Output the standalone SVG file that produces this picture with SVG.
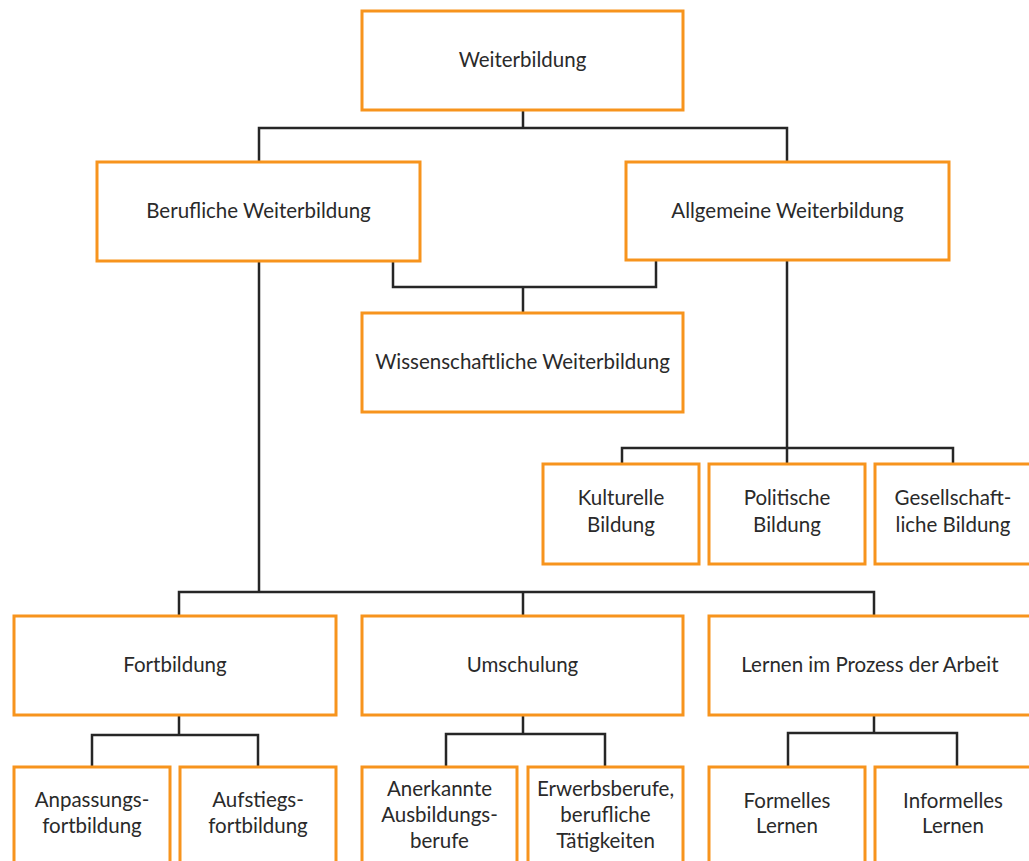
<svg xmlns="http://www.w3.org/2000/svg" width="1029" height="861" viewBox="0 0 1029 861">
  <style>
    .box { fill: #ffffff; stroke: #f7941d; stroke-width: 3; }
    .lbl { font-family: Lato, "Open Sans", "Liberation Sans", sans-serif; font-size: 20.5px; fill: #2a2a2a; text-anchor: middle; }
    .conn { fill: none; stroke: #262626; stroke-width: 2.5; stroke-linejoin: miter; stroke-linecap: square; }
  </style>
  <rect width="1029" height="861" fill="#ffffff"/>

  <!-- connectors -->
  <g id="connectors" class="conn">
    <!-- root to level 1 -->
    <path d="M523 110 V128 M259 128 H787 M259 128 V162 M787 128 V162"/>
    <!-- both level-1 nodes to Wissenschaftliche Weiterbildung -->
    <path d="M393 261 V287 H656 V261 M523 287 V313"/>
    <!-- Berufliche Weiterbildung to its three branches -->
    <path d="M259 261 V592 M179 592 H874 M179 592 V616 M523 592 V616 M874 592 V616"/>
    <!-- Allgemeine Weiterbildung to its three branches -->
    <path d="M787 261 V464 M622 448 H953 M622 448 V464 M953 448 V464"/>
    <!-- Fortbildung -->
    <path d="M179 715 V735 M92 735 H258 M92 735 V767 M258 735 V767"/>
    <!-- Umschulung -->
    <path d="M523 715 V734 M446 734 H605 M446 734 V767 M605 734 V767"/>
    <!-- Lernen im Prozess der Arbeit -->
    <path d="M874 715 V733 M788 733 H957 M788 733 V767 M957 733 V767"/>
  </g>

  <g id="weiterbildung">
    <rect class="box" x="362" y="11" width="321" height="99"/>
    <text class="lbl" x="522.5" y="67">Weiterbildung</text>
  </g>

  <g id="berufliche">
    <rect class="box" x="97" y="162" width="323" height="99"/>
    <text class="lbl" x="258.5" y="218">Berufliche Weiterbildung</text>
  </g>

  <g id="allgemeine">
    <rect class="box" x="626" y="162" width="323" height="98"/>
    <text class="lbl" x="787.5" y="218">Allgemeine Weiterbildung</text>
  </g>

  <g id="wissenschaftliche">
    <rect class="box" x="362" y="313" width="321" height="99"/>
    <text class="lbl" x="522.5" y="369">Wissenschaftliche Weiterbildung</text>
  </g>

  <g id="kulturelle">
    <rect class="box" x="543" y="464" width="156" height="100"/>
    <text class="lbl" x="621" y="505">Kulturelle</text>
    <text class="lbl" x="621" y="532">Bildung</text>
  </g>

  <g id="politische">
    <rect class="box" x="709" y="464" width="156" height="100"/>
    <text class="lbl" x="787" y="505">Politische</text>
    <text class="lbl" x="787" y="532">Bildung</text>
  </g>

  <g id="gesellschaftliche">
    <rect class="box" x="875" y="464" width="158" height="100"/>
    <text class="lbl" x="953" y="505">Gesellschaft-</text>
    <text class="lbl" x="953" y="532">liche Bildung</text>
  </g>

  <g id="fortbildung">
    <rect class="box" x="14" y="616" width="322" height="99"/>
    <text class="lbl" x="175" y="672">Fortbildung</text>
  </g>

  <g id="umschulung">
    <rect class="box" x="362" y="616" width="321" height="99"/>
    <text class="lbl" x="522.5" y="672">Umschulung</text>
  </g>

  <g id="lernen-arbeit">
    <rect class="box" x="709" y="616" width="324" height="99"/>
    <text class="lbl" x="870" y="672">Lernen im Prozess der Arbeit</text>
  </g>

  <g id="anpassung">
    <rect class="box" x="14" y="767" width="156" height="110"/>
    <text class="lbl" x="92" y="807">Anpassungs-</text>
    <text class="lbl" x="92" y="833">fortbildung</text>
  </g>

  <g id="aufstieg">
    <rect class="box" x="180" y="767" width="156" height="110"/>
    <text class="lbl" x="258" y="807">Aufstiegs-</text>
    <text class="lbl" x="258" y="833">fortbildung</text>
  </g>

  <g id="anerkannte">
    <rect class="box" x="362" y="767" width="155" height="110"/>
    <text class="lbl" x="439.5" y="796">Anerkannte</text>
    <text class="lbl" x="439.5" y="822">Ausbildungs-</text>
    <text class="lbl" x="439.5" y="848">berufe</text>
  </g>

  <g id="erwerbsberufe">
    <rect class="box" x="528" y="767" width="155" height="110"/>
    <text class="lbl" x="605.5" y="796">Erwerbsberufe,</text>
    <text class="lbl" x="605.5" y="822">berufliche</text>
    <text class="lbl" x="605.5" y="848">Tätigkeiten</text>
  </g>

  <g id="formelles">
    <rect class="box" x="709" y="767" width="156" height="110"/>
    <text class="lbl" x="787" y="808">Formelles</text>
    <text class="lbl" x="787" y="833">Lernen</text>
  </g>

  <g id="informelles">
    <rect class="box" x="875" y="767" width="158" height="110"/>
    <text class="lbl" x="953" y="808">Informelles</text>
    <text class="lbl" x="953" y="833">Lernen</text>
  </g>
</svg>
